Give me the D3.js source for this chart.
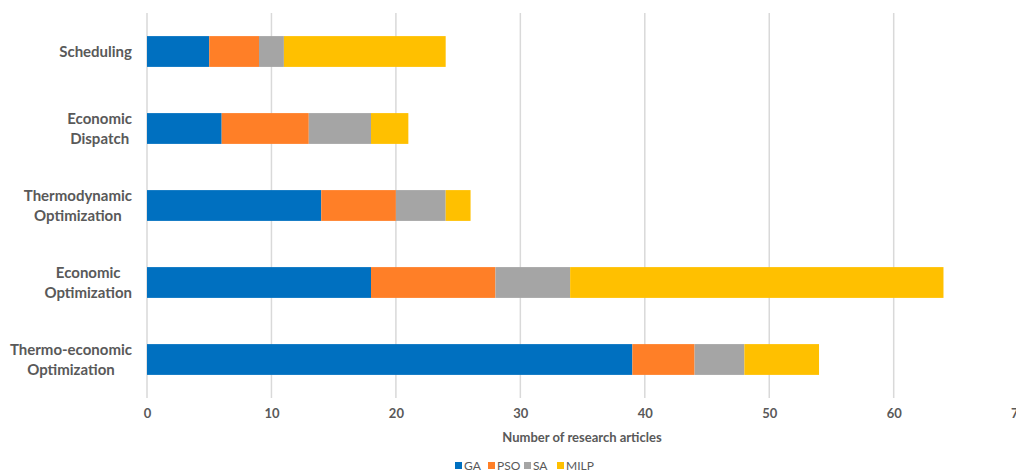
<!DOCTYPE html>
<html>
<head>
    <meta charset="utf-8">
    <title></title>
    <script src="https://cdn.jsdelivr.net/npm/d3@7"></script>
    <style>
        body { margin: 0; background: #fff; }
        text { font-family: Lato, "Open Sans", sans-serif; fill: #595959; }
        .cat { font-size: 15px; font-weight: bold; }
        .tick text { font-size: 13px; font-weight: bold; }
        .grid line { stroke: #d9d9d9; stroke-width: 1.5; }
        .axis-title { font-size: 13px; font-weight: bold; }
        .legend text { font-size: 12px; }
    </style>
</head>
<body>
<div id="vis"></div>
<script>

    // categories top to bottom, each label split into lines
    var categories = ["Scheduling", "Economic Dispatch", "Thermodynamic Optimization", "Economic Optimization", "Thermo-economic Optimization"];
    var catLines = [["Scheduling"], ["Economic", "Dispatch"], ["Thermodynamic", "Optimization"], ["Economic", "Optimization"], ["Thermo-economic", "Optimization"]];

    var seriesNames = ["GA", "PSO", "SA", "MILP"];
    var GA   = [5, 6, 14, 18, 39];
    var PSO  = [4, 7, 6, 10, 5];
    var SA   = [2, 5, 4, 6, 4];
    var MILP = [13, 3, 2, 30, 6];
    var colors = ["#0070c0", "#ff7f27", "#a5a5a5", "#ffc000"];
    var xTicks = [0, 10, 20, 30, 40, 50, 60, 70];

    var width = 1016, height = 473;
    var margin = {top: 13, left: 147};

    var svg = d3.select("#vis").append("svg")
            .attr("width", width)
            .attr("height", height);

    var x = d3.scaleLinear().domain([0, 70]).range([margin.left, margin.left + 70 * 12.445]);
    var y = d3.scaleBand().domain(categories).range([13, 398]).paddingInner(0.6).paddingOuter(0.3);

    // gridlines
    var grid = svg.append("g").attr("class", "grid");
    grid.selectAll("line").data(xTicks).enter().append("line")
        .attr("x1", function(d){ return x(d); })
        .attr("x2", function(d){ return x(d); })
        .attr("y1", 13)
        .attr("y2", 398);

    // stacked data
    var rows = categories.map(function(c, i){
        return {cat: c, GA: GA[i], PSO: PSO[i], SA: SA[i], MILP: MILP[i]};
    });
    var stack = d3.stack().keys(seriesNames)(rows);

    svg.append("g").selectAll("g").data(stack).enter().append("g")
        .attr("fill", function(d, i){ return colors[i]; })
        .selectAll("rect").data(function(d){ return d; }).enter().append("rect")
        .attr("x", function(d){ return x(d[0]); })
        .attr("width", function(d){ return x(d[1]) - x(d[0]); })
        .attr("y", function(d){ return y(d.data.cat); })
        .attr("height", y.bandwidth());

    // x axis labels
    var xAxis = d3.axisBottom(x).tickValues(xTicks).tickSize(0).tickPadding(0);
    var ax = svg.append("g").attr("transform", "translate(0,409)").call(xAxis);
    ax.select(".domain").remove();
    ax.selectAll("text").attr("dy", "0.71em");

    svg.append("text").attr("class", "axis-title")
        .attr("x", 582).attr("y", 442)
        .attr("text-anchor", "middle")
        .text("Number of research articles");

    // category labels, centred block whose widest line ends near the plot
    var labels = svg.append("g").selectAll("text").data(catLines).enter().append("text")
        .attr("class", "cat")
        .attr("text-anchor", "middle");
    labels.each(function(lines, i){
        var t = d3.select(this);
        var cy = y(categories[i]) + y.bandwidth() / 2;
        var top = cy - (lines.length - 1) * 10;
        lines.forEach(function(l, j){
            t.append("tspan").attr("x", 0).attr("y", top + j * 20).attr("dy", "0.35em").text(l);
        });
        var w = d3.max(t.selectAll("tspan").nodes(), function(n){ return n.getComputedTextLength(); });
        t.selectAll("tspan").attr("x", 132 - w / 2);
    });

    // legend
    var legX = [455, 488, 524, 557];
    var leg = svg.append("g").attr("class", "legend");
    seriesNames.forEach(function(s, i){
        leg.append("rect").attr("x", legX[i]).attr("y", 462).attr("width", 7).attr("height", 7).attr("fill", colors[i]);
        leg.append("text").attr("x", legX[i] + 9).attr("y", 466).attr("dy", "0.35em").text(s);
    });

</script>
</body>
</html>
